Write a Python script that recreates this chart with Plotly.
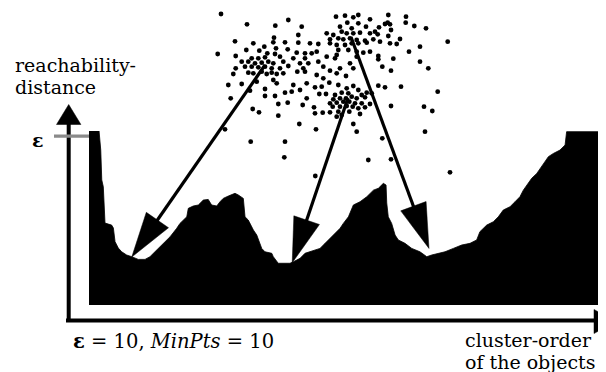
import math
import plotly.graph_objects as go

W, H = 606, 372          # browser window
OFF = 8                  # default page margin of the html body
FW, FH = W - OFF, H - OFF

# ---------------- data ----------------
# Reachability plot: cluster-order of the objects vs. reachability-distance (eps = 10)
cluster_order = [0, 5.9, 6.9, 7.5, 8.4, 9.4, 13.3, 14.3, 15.3, 17.2, 19.2, 22.1, 25.1, 28.9, 32.9,
                 35.8, 38.7, 41.7, 44.6, 47.6, 51.5, 53.4, 57.4, 58.3, 61.2, 64.2, 67.1, 70.0, 72.0,
                 75.0, 76.9, 78.8, 81.8, 85.7, 87.7, 90.6, 91.6, 93.5, 96.5, 98.5, 101.4, 103.3, 107.3,
                 108.2, 111.1, 118.0, 120.0, 123.9, 126.8, 129.8, 132.7, 135.6, 138.6, 141.5, 144.4,
                 147.4, 149.3, 152.3, 155.2, 159.1, 163.1, 167.0, 169.9, 172.8, 174.4, 174.8, 175.7,
                 177.7, 179.7, 181.6, 185.5, 189.5, 194.3, 198.3, 201.2, 209.0, 213.9, 218.8, 223.7,
                 227.6, 229.5, 233.5, 237.4, 240.3, 243.2, 247.2, 250.1, 253.0, 255.0, 257.0, 259.9,
                 262.9, 266.7, 269.7, 272.6, 276.5, 279.5, 280.4, 300]
reachability = [10.3, 10.3, 9.17, 7.40, 7.00, 4.85, 4.73, 4.56, 3.75, 3.37, 3.15, 2.96, 2.86, 2.70, 2.70,
                2.86, 3.15, 3.45, 3.75, 4.04, 4.54, 4.83, 5.22, 5.72, 5.86, 5.92, 6.21, 6.25, 5.92,
                5.86, 6.11, 6.31, 6.45, 6.61, 6.51, 6.31, 5.22, 5.03, 4.44, 4.14, 3.35, 3.15, 3.06,
                2.86, 2.47, 2.47, 2.56, 2.76, 3.06, 3.15, 3.25, 3.35, 3.65, 3.95, 4.24,
                4.54, 4.83, 5.22, 5.92, 6.11, 6.41, 6.80, 6.91, 7.20, 7.10, 6.04, 5.22,
                4.83, 4.14, 3.85, 3.65, 3.35, 3.15, 2.86, 2.96, 3.15, 3.35, 3.55, 3.65,
                3.85, 4.34, 4.73, 4.93, 5.22, 5.62, 5.82, 6.11, 6.41, 6.80, 7.10, 7.50,
                7.79, 8.38, 8.78, 8.97, 9.17, 9.47, 10.26, 10.26]
EPS = 10

# Sample 2-D data set (object coordinates)
sample_x = [21, 47, 75.3, 88.3, 74, 73.3, 85, 35, 53.3, 64.3, 46.3, 59.3, 76, 87.7, 17.7, 35.7, 67.3, 75,
            51.7, 58.3, 65, 80, 41.7, 48.3, 55, 61.7, 68.3, 73.3, 83.3, 35.7, 45, 51.7, 58.3, 65, 71.7,
            80, 88.3,
            101.7, 98.3, 136, 145, 153.3, 158.3, 170, 147.3, 158.3, 140, 151.7, 166, 126.7, 133.3, 141.7,
            146.7, 153.3, 160, 170, 130, 138.3, 143.3, 150, 156.7, 165, 173.3, 130, 136.7, 145, 151.7,
            158.3, 166.7, 110, 118.3, 98.3, 138.3, 148.3, 156.7, 163.3, 170, 96.7, 105, 111.7, 116.7,
            136.7, 93.3, 105, 126.7, 135, 156.7, 100, 108.3, 118.3, 150, 103.3, 123.3, 140, 153.3,
            188.3, 206, 205.7, 214.3, 226, 185, 187.7, 190, 179, 191, 175, 177.7, 188.3, 180, 190, 200,
            196.7, 247.7, 220, 209, 178.3, 178.3, 193.3, 220, 182.3, 228.3,
            33.3, 48.3, 53.3, 61.7, 66.7, 71.7, 76.7, 83.3, 28.3, 41.7, 56.7, 73.3, 76.7, 50, 65, 85,
            65, 75, 30.7, 78.3, 87.7, 52.7, 59, 78.3, 25,
            97.3, 105, 116.7, 123.3, 130, 136.7, 146, 93.3, 106.7, 115, 121.7, 129.3, 138.3, 146.7,
            153.3, 158.3, 166.7, 91.7, 100, 119.3, 126, 135, 141.7, 148.3, 161.7, 171.7, 106.7, 133.3,
            140, 146, 151.7, 156.7, 165, 130, 136.7, 143.3, 149.3, 155, 161.7, 170, 102.7, 114, 132.7,
            140, 146.7, 152.7, 158.3, 165, 115, 122.7, 130, 138.3, 149.3, 160, 136.7, 141.7, 99.3,
            153.3, 116, 156.7,
            191, 178.3, 185, 201, 237.7, 191, 224, 232.3, 225, 182.3,
            50.7, 85, 84.3, 115.3, 168.3, 191, 250]
sample_y = [126, 115.7, 114.3, 120, 102.3, 97.7, 97.7, 98.7, 96.7, 93.3, 90, 89.3, 91.7, 90.7, 86, 84, 86.7,
            86, 81.7, 81.7, 82.7, 83.3, 78.3, 78.3, 76.7, 77.3, 78.3, 76.7, 78.3, 71.7, 73.3, 73.3, 72.7,
            73.3, 71.7, 71.7, 74,
            113.3, 105, 123.3, 124.3, 122.7, 125, 120.7, 117.3, 116.7, 113.3, 111.7, 113.3, 106.7, 105,
            108.3, 106.7, 106.7, 107.3, 106.7, 100.7, 101.7, 100.7, 101.7, 100, 99.3, 100.7, 96.7, 95,
            95, 96.7, 96.7, 97.3, 96.7, 96, 97.3, 90, 90, 88.3, 87.3, 88.3, 87.3, 86.7, 86.7, 88.3, 85,
            81.7, 81.7, 83.3, 81.7, 83.3, 76.7, 76.7, 78.3, 76.7, 71.7, 73.3, 71.7, 71.7,
            125, 123.3, 117.3, 114, 111.7, 116, 117.3, 115.7, 112.7, 110, 108.3, 105.7, 104, 98.3, 96.7,
            101, 96, 98.3, 93.3, 88.3, 84, 80.7, 81.3, 78.3, 73.3, 71.7,
            66, 67.3, 66.7, 68.3, 66, 67.3, 66, 66.7, 55, 56, 58.3, 60, 56.7, 49.3, 51, 47.3, 44, 44,
            41.7, 36, 37.3, 31, 27.7, 24.3, 10.7,
            68.3, 68.3, 65, 61.7, 69.3, 66.7, 64, 55, 56.7, 52.7, 53.3, 57.3, 55, 51.7, 54, 50, 47.3,
            48.3, 50, 46, 46, 45, 47.3, 46.7, 45, 46.7, 41.7, 40.7, 41.7, 41.7, 43.3, 41.7, 42.7, 36.7,
            37.3, 38.3, 38.3, 36.7, 36.7, 36, 35, 32.7, 33.3, 33.3, 34, 33.3, 31.7, 32.7, 26.7, 27.3,
            27.7, 28.3, 28.3, 26, 23.3, 25, 16, 16, 10.7, 8.3,
            69.3, 54.3, 52.7, 53.3, 48.3, 34, 33.3, 29, 8.3, 1.7,
            -1.7, -1.7, -17.3, -36, -20, -19.3, -32.3]

# Arrows: dense cluster (sample coords) -> its valley in the reachability plot
cluster_centers_x = [65, 148, 151]
cluster_centers_y = [75, 42, 103]
valley_order = [25.1, 119.3, 199.6]
valley_reach = [2.84, 2.5, 3.35]

# ---------------- layout geometry (window pixels) ----------------
MX0, MX1 = 89, 600          # reachability plot x extent
MY0, MYTOP = 305, 131       # bar baseline and top of range
X_MAX, R_MAX = 300, 10.3
SX0, SX1, SY_TOP, SY_BOT = 200, 460, 0, 180
SU_RANGE = [0, 260]
SV_RANGE = [-40, 140]


def main_px(o, r):
    return (MX0 + o * (MX1 - MX0) / X_MAX, MY0 - r * (MY0 - MYTOP) / R_MAX)


def sample_px(u, v):
    px = SX0 + (u - SU_RANGE[0]) * (SX1 - SX0) / (SU_RANGE[1] - SU_RANGE[0])
    py = SY_BOT - (v - SV_RANGE[0]) * (SY_BOT - SY_TOP) / (SV_RANGE[1] - SV_RANGE[0])
    return px, py


def P(px, py):
    """window pixel -> figure paper coordinates"""
    return (px - OFF) / FW, (FH - (py - OFF)) / FH


fig = go.Figure()

fig.add_trace(go.Scatter(
    x=cluster_order, y=reachability, mode="lines", fill="tozeroy",
    line=dict(color="black", width=0.8), fillcolor="black",
    xaxis="x", yaxis="y", hoverinfo="skip", showlegend=False))

fig.add_trace(go.Scatter(
    x=sample_x, y=sample_y, mode="markers",
    marker=dict(color="black", size=4.8, line=dict(width=0)),
    xaxis="x2", yaxis="y2", hoverinfo="skip", showlegend=False))

shapes = []


def seg(p0, p1, color="black", width=3.5):
    a, b = P(*p0), P(*p1)
    shapes.append(dict(type="line", xref="paper", yref="paper",
                       x0=a[0], y0=a[1], x1=b[0], y1=b[1],
                       line=dict(color=color, width=width)))


def tri(pts, color="black"):
    q = [P(*p) for p in pts]
    path = "M {} {} L {} {} L {} {} Z".format(q[0][0], q[0][1], q[1][0], q[1][1], q[2][0], q[2][1])
    shapes.append(dict(type="path", xref="paper", yref="paper", path=path,
                       fillcolor=color, line=dict(color=color, width=0.5)))


# axes drawn as arrows
seg((68.7, 124), (68.7, 322), width=4)
tri([(68.7, 104.5), (56.5, 124.5), (80.9, 124.5)])
seg((66, 320.5), (596, 320.5), width=4)
tri([(616, 321.5), (594, 309.5), (594, 333.5)])
# epsilon tick
e_px = main_px(0, EPS)
seg((54, e_px[1]), (MX0, e_px[1]), color="#8a8a8a", width=3.3)

# cluster arrows
L_HEAD, HW = 45, 13.5
for cx, cy, vo, vr in zip(cluster_centers_x, cluster_centers_y, valley_order, valley_reach):
    s = sample_px(cx, cy)
    t = main_px(vo, vr)
    dx, dy = t[0] - s[0], t[1] - s[1]
    n = math.hypot(dx, dy)
    ux, uy = dx / n, dy / n
    b = (t[0] - L_HEAD * ux, t[1] - L_HEAD * uy)
    seg(s, (b[0] + 3 * ux, b[1] + 3 * uy), width=3.2)
    tri([t, (b[0] - HW * uy, b[1] + HW * ux), (b[0] + HW * uy, b[1] - HW * ux)])

FONT = "DejaVu Serif, Liberation Serif, serif"
annotations = []


def label(text, px, py, size=19, anchor="left"):
    x, y = P(px, py)
    annotations.append(dict(text=text, x=x, y=y, xref="paper", yref="paper",
                            xanchor=anchor, yanchor="middle", showarrow=False,
                            font=dict(family=FONT, size=size, color="black")))


label("reachability-", 13, 65)
label("distance", 13, 87)
label("<b>ε</b>", 38, 139.5, anchor="center")
label("<b>ε</b> = 10, <i>MinPts</i> = 10", 71, 341.5, size=19.5)
label("cluster-order", 463, 339.5)
label("of the objects", 463, 362)

xa0, ya0 = P(MX0, MY0)
xa1, ya1 = P(MX1, MYTOP)
xs0, ys0 = P(SX0, SY_BOT)
xs1, ys1 = P(SX1, max(SY_TOP, OFF))
# top of the sample axes is clipped to the figure; adjust its range accordingly
sv_top = SV_RANGE[0] + (SY_BOT - max(SY_TOP, OFF)) * (SV_RANGE[1] - SV_RANGE[0]) / (SY_BOT - SY_TOP)

fig.update_layout(
    width=FW, height=FH, margin=dict(l=0, r=0, t=0, b=0),
    paper_bgcolor="white", plot_bgcolor="rgba(0,0,0,0)",
    xaxis=dict(domain=[xa0, xa1], range=[0, X_MAX], visible=False, fixedrange=True),
    yaxis=dict(domain=[ya0, ya1], range=[0, R_MAX], visible=False, fixedrange=True),
    xaxis2=dict(domain=[xs0, xs1], range=SU_RANGE, visible=False, anchor="y2", fixedrange=True),
    yaxis2=dict(domain=[ys0, ys1], range=[SV_RANGE[0], sv_top], visible=False,
                anchor="x2", fixedrange=True),
    shapes=shapes, annotations=annotations, showlegend=False)

fig.write_html("out.html")
